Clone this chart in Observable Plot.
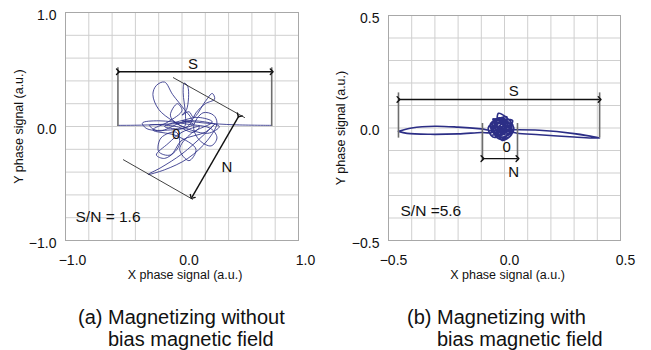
<!DOCTYPE html>
<html><head><meta charset="utf-8">
<script src="https://cdn.jsdelivr.net/npm/d3@7"></script>
<script src="https://cdn.jsdelivr.net/npm/@observablehq/plot@0.6"></script>
<style>
body{margin:0;background:#fff}
#wrap{position:relative;width:651px;height:350px;font-family:"Liberation Sans",Arial,sans-serif;color:#111;overflow:hidden}
.panel{position:absolute;top:0}
.panel svg{font-family:"Liberation Sans",Arial,sans-serif;color:#111}
.cap{position:absolute;font-size:20px;line-height:22px;padding-left:1.5em;text-indent:-1.5em;white-space:nowrap;color:#111}
</style></head>
<body><div id="wrap">
<div id="pa" class="panel" style="left:0"></div>
<div id="pb" class="panel" style="left:325px"></div>
<div class="cap" style="left:78px;top:306px">(a) Magnetizing without<br>bias magnetic field</div>
<div class="cap" style="left:407px;top:306px">(b) Magnetizing with<br>bias magnetic field</div>
</div>
<script>
// ---------- data ----------
const xTitle = "X phase signal (a.u.)";
const yTitle = "Y phase signal (a.u.)";
const gridA = [-1, -0.8, -0.6, -0.4, -0.2, 0, 0.2, 0.4, 0.6, 0.8, 1];
const ticksA = [-1, 0, 1];
const gridB = [-0.5, -0.4, -0.3, -0.2, -0.1, 0, 0.1, 0.2, 0.3, 0.4, 0.5];
const ticksB = [-0.5, 0, 0.5];
const ratioA = "S/N = 1.6";
const ratioB = "S/N =5.6";

// signal trace, panel (a): [x, y]
const traceA = [
  [-0.55, 0.01], [-0.35, 0.012], [-0.15, 0.02], [-0.02, 0.03], [0.08, 0.06],
  [0.02, 0.15], [-0.08, 0.28], [-0.15, 0.39], [-0.22, 0.36], [-0.25, 0.28],
  [-0.2, 0.15], [-0.08, 0.05], [0.02, 0.0], [0.03, 0.1], [0.01, 0.3],
  [0.02, 0.38], [0.05, 0.35], [0.04, 0.15], [0.0, 0.1], [0.06, 0.13],
  [0.1, 0.08], [0.2, 0.22], [0.26, 0.29], [0.28, 0.24], [0.2, 0.2],
  [0.12, 0.12], [0.05, 0.0], [-0.1, -0.03], [-0.3, -0.02], [-0.34, 0.03],
  [-0.2, 0.05], [0.05, 0.02], [0.25, -0.02], [0.3, -0.1], [0.25, -0.17],
  [0.15, -0.12], [0.1, 0.0], [0.18, 0.12], [0.27, 0.1], [0.3, 0.03],
  [0.22, -0.12], [0.05, -0.28], [-0.15, -0.38], [-0.29, -0.42], [-0.18, -0.36],
  [0.0, -0.24], [0.18, -0.08], [0.28, 0.02], [0.2, -0.05], [0.0, -0.12],
  [-0.1, -0.25], [-0.2, -0.22], [-0.18, -0.1], [-0.05, -0.05], [-0.02, -0.15],
  [-0.06, -0.22], [-0.15, -0.28], [-0.22, -0.25], [-0.12, -0.15], [0.0, -0.05],
  [0.15, 0.0], [0.1, -0.05], [-0.05, 0.0], [-0.28, 0.01], [-0.2, -0.04],
  [0.05, 0.05], [0.32, 0.0], [0.22, -0.06], [-0.05, 0.03], [-0.1, 0.1],
  [-0.04, 0.2], [0.0, 0.14], [-0.12, 0.04], [-0.25, -0.03], [-0.05, -0.08],
  [0.12, -0.2], [0.06, -0.3], [-0.02, -0.2], [0.08, -0.06], [0.26, 0.04],
  [0.14, 0.08], [0.03, 0.06], [-0.15, 0.0], [-0.02, -0.02], [0.1, 0.02],
  [0.0, 0.05], [0.2, 0.03], [0.45, 0.015], [0.77, 0.01]
];

// signal trace, panel (b): [x, y]
const traceB = [
  [-0.457, -0.015], [-0.4, 0.0], [-0.3, 0.008], [-0.2, 0.004], [-0.1, -0.004],
  [-0.05, -0.01], [-0.02, 0.03], [0.02, 0.02], [0.03, -0.02], [-0.01, -0.04],
  [-0.05, -0.02], [-0.06, 0.02], [-0.03, 0.04], [0.01, 0.05], [0.0, 0.01],
  [-0.04, -0.03], [-0.02, -0.05], [0.02, -0.04], [0.04, 0.0], [0.01, 0.03],
  [-0.04, 0.03], [-0.07, 0.0], [-0.05, -0.04], [-0.01, -0.03], [0.02, 0.0],
  [-0.01, 0.02], [-0.03, -0.01], [-0.01, -0.055], [0.03, -0.03], [0.035, 0.015],
  [-0.026, 0.065], [-0.035, 0.02], [-0.06, -0.03], [-0.02, -0.02], [0.01, 0.035],
  [0.035, 0.033], [0.0, -0.02], [-0.045, 0.005], [-0.025, 0.045], [0.015, 0.015],
  [-0.01, -0.01], [-0.05, 0.01], [-0.03, -0.035], [0.01, -0.015], [-0.015, 0.025],
  [-0.055, -0.005], [-0.04, 0.04], [0.0, 0.03], [0.025, -0.01], [-0.005, -0.045],
  [-0.035, -0.02], [-0.02, 0.01], [0.015, -0.025], [0.03, 0.005], [-0.01, 0.045],
  [-0.04, 0.015], [-0.025, -0.03], [0.005, -0.005], [-0.03, 0.0], [0.02, 0.01],
  [-0.015, -0.015], [-0.045, 0.025], [-0.005, 0.012], [0.01, -0.03], [-0.04, -0.01],
  [0.05, -0.008], [0.15, -0.01], [0.3, -0.025], [0.41, -0.045],
  [0.3, -0.04], [0.15, -0.03], [0.05, -0.022], [-0.02, 0.0], [-0.05, 0.04],
  [0.0, 0.02], [-0.06, -0.02], [-0.1, -0.02], [-0.2, -0.026], [-0.32, -0.028],
  [-0.42, -0.024], [-0.457, -0.015]
];

// annotations, panel (a)
const sArrowA = [{x1: -0.55, x2: 0.77, y1: 0.48, y2: 0.48}];
const sBarsA = [{x: -0.55, y1: 0, y2: 0.515}, {x: 0.77, y1: 0, y2: 0.515}];
const tangentA = [
  {x1: -0.077, y1: 0.43, x2: 0.54, y2: 0.077},
  {x1: -0.506, y1: -0.29, x2: 0.094, y2: -0.64}
];
const nArrowA = [{x1: 0.49, y1: 0.095, x2: 0.086, y2: -0.62}];
const sLabelA = [{x: 0.095, y: 0.48, text: "S"}];
const labelsA = [{x: 0.386, y: -0.36, text: "N"}, {x: -0.05, y: -0.07, text: "0"}];

// annotations, panel (b)
const sArrowB = [{x1: -0.457, x2: 0.41, y1: 0.127, y2: 0.127}];
const sBarsB = [{x: -0.457, y1: -0.045, y2: 0.156}, {x: 0.41, y1: -0.045, y2: 0.156}];
const nBarsB = [{x: -0.095, y1: -0.147, y2: 0.02}, {x: 0.056, y1: -0.147, y2: 0.02}];
const nArrowB = [{x1: -0.095, x2: 0.056, y1: -0.136, y2: -0.136}];
const sLabelB = [{x: 0.04, y: 0.127, text: "S"}];
const labelsB = [{x: 0.04, y: -0.198, text: "N"}, {x: 0.009, y: -0.085, text: "0"}];

// ---------- drawing ----------
const navy = "#2c2e86";
const fmt = d3.format(".1f");

function panel(o) {
  return Plot.plot({
    width: o.width, height: 290,
    marginLeft: o.ml, marginRight: o.mr, marginTop: o.mt, marginBottom: 50,
    x: {domain: o.domain, label: null},
    y: {domain: o.domain, label: null},
    style: {background: "transparent", overflow: "visible"},
    marks: [
      Plot.gridX(o.grid, {stroke: "#cfcfcf", strokeOpacity: 1}),
      Plot.gridY(o.grid, {stroke: "#cfcfcf", strokeOpacity: 1}),
      Plot.frame({stroke: "#a8a8a8"}),
      Plot.axisX(o.ticks, {tickSize: 0, tickPadding: 15, tickFormat: fmt, fontSize: 14, dx: o.tdx, label: null}),
      Plot.axisY(o.ticks, {tickSize: 0, tickPadding: 9, tickFormat: fmt, fontSize: 14, dy: 3, label: null}),
      Plot.text([xTitle], {frameAnchor: "bottom", textAnchor: "middle", dy: 38, dx: 3, fontSize: 12.5}),
      Plot.text([yTitle], {frameAnchor: "left", textAnchor: "middle", dx: o.ydx, rotate: -90, fontSize: 12.5}),
      Plot.line(o.trace, {x: d => d[0], y: d => d[1], curve: "catmull-rom", stroke: navy, strokeWidth: o.sw}),
      ...o.bars.map(b => Plot.ruleX(b, {x: "x", y1: "y1", y2: "y2", stroke: "#6e6e6e", strokeWidth: 1.6})),
      ...(o.tangent ? [Plot.link(o.tangent, {x1: "x1", y1: "y1", x2: "x2", y2: "y2", stroke: "#111", strokeWidth: 0.8})] : []),
      ...o.arrows.map(a => Plot.link(a, {x1: "x1", y1: "y1", x2: "x2", y2: "y2", stroke: "#111", strokeWidth: 1.4, markerStart: "arrow", markerEnd: "arrow"})),
      Plot.text(o.sLabel, {x: "x", y: "y", text: "text", lineAnchor: "bottom", dy: -3, fontSize: 15}),
      Plot.text(o.labels, {x: "x", y: "y", text: "text", fontSize: 15}),
      Plot.text([o.ratio], {frameAnchor: "bottom-left", dx: o.rdx, dy: o.rdy, textAnchor: "start", fontSize: 15.5})
    ]
  });
}

document.getElementById("pa").append(panel({
  width: 325, ml: 65, mr: 27, mt: 12, domain: [-1, 1], grid: gridA, ticks: ticksA, tdx: 7, ydx: -47,
  trace: traceA, sw: 0.85, bars: [sBarsA], tangent: tangentA, arrows: [sArrowA, nArrowA],
  sLabel: sLabelA, labels: labelsA, ratio: ratioA, rdx: 10, rdy: -19
}));
document.getElementById("pb").append(panel({
  width: 326, ml: 63, mr: 31, mt: 15, domain: [-0.5, 0.5], grid: gridB, ticks: ticksB, tdx: 5, ydx: -48,
  trace: traceB, sw: 1.6, bars: [sBarsB, nBarsB], tangent: null, arrows: [sArrowB, nArrowB],
  sLabel: sLabelB, labels: labelsB, ratio: ratioB, rdx: 12, rdy: -25
}));
</script>
</body></html>
